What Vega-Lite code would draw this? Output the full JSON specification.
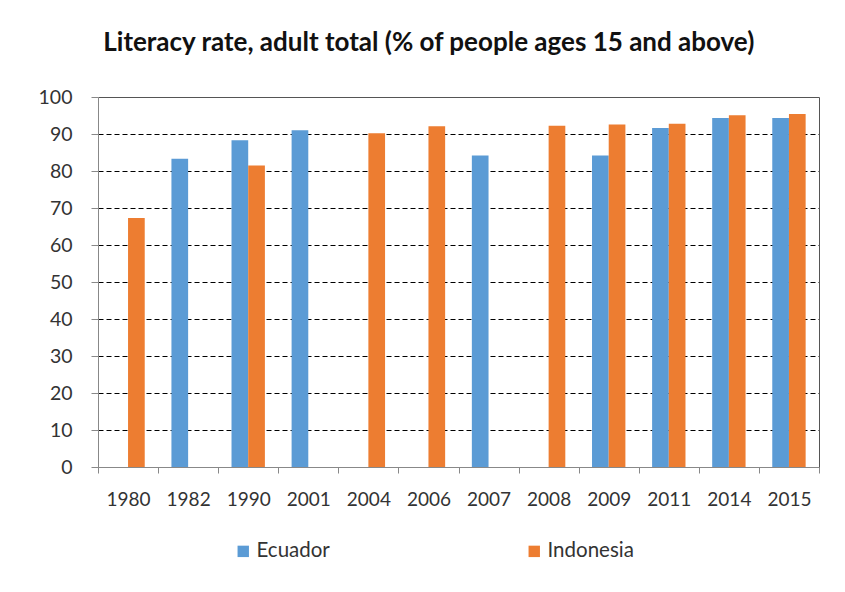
{
  "$schema": "https://vega.github.io/schema/vega-lite/v6.json",
  "width": 721,
  "height": 370,
  "autosize": {"type": "pad"},
  "padding": {"left": 38, "top": 30, "right": 27, "bottom": 10},
  "background": "white",
  "title": {
    "text": "Literacy rate, adult total (% of people ages 15 and above)",
    "font": "Lato",
    "fontSize": 26,
    "fontWeight": "bold",
    "color": "#111111",
    "anchor": "middle",
    "frame": "bounds",
    "offset": 31
  },
  "data": {
    "values": [
      {"year": "1980", "country": "Indonesia", "value": 67.3},
      {"year": "1982", "country": "Ecuador", "value": 83.3},
      {"year": "1990", "country": "Ecuador", "value": 88.3},
      {"year": "1990", "country": "Indonesia", "value": 81.5},
      {"year": "2001", "country": "Ecuador", "value": 91.0},
      {"year": "2004", "country": "Indonesia", "value": 90.2},
      {"year": "2006", "country": "Indonesia", "value": 92.1},
      {"year": "2007", "country": "Ecuador", "value": 84.2},
      {"year": "2008", "country": "Indonesia", "value": 92.2},
      {"year": "2009", "country": "Ecuador", "value": 84.2},
      {"year": "2009", "country": "Indonesia", "value": 92.6},
      {"year": "2011", "country": "Ecuador", "value": 91.6},
      {"year": "2011", "country": "Indonesia", "value": 92.8},
      {"year": "2014", "country": "Ecuador", "value": 94.3},
      {"year": "2014", "country": "Indonesia", "value": 95.1},
      {"year": "2015", "country": "Ecuador", "value": 94.3},
      {"year": "2015", "country": "Indonesia", "value": 95.4}
    ]
  },
  "layer": [
    {
      "mark": {"type": "bar"},
      "encoding": {
        "x": {
          "field": "year",
          "type": "nominal",
          "scale": {"paddingInner": 0, "paddingOuter": 0},
          "axis": {
            "title": null,
            "labelAngle": 0,
            "tickBand": "extent",
            "tickSize": 6,
            "labelPadding": 17,
            "labelFont": "Lato",
            "labelFontSize": 19,
            "labelColor": "#333333",
            "domainColor": "#888888",
            "tickColor": "#888888",
            "grid": false
          }
        },
        "xOffset": {
          "field": "country",
          "type": "nominal",
          "scale": {"paddingInner": 0, "paddingOuter": 0.8}
        },
        "y": {
          "field": "value",
          "type": "quantitative",
          "scale": {"domain": [0, 100]},
          "axis": {
            "title": null,
            "values": [0, 10, 20, 30, 40, 50, 60, 70, 80, 90, 100],
            "tickSize": 7,
            "labelPadding": 19,
            "labelFont": "Lato",
            "labelFontSize": 19.5,
            "labelColor": "#333333",
            "domainColor": "#888888",
            "tickColor": "#888888",
            "grid": true,
            "gridColor": {"condition": {"test": "datum.value === 0 || datum.value === 100", "value": "transparent"}, "value": "#000000"},
            "gridDash": [5, 3],
            "gridWidth": 1
          }
        },
        "color": {
          "field": "country",
          "type": "nominal",
          "scale": {"domain": ["Ecuador", "Indonesia"], "range": ["#5B9BD5", "#ED7D31"]},
          "legend": {
            "title": null,
            "orient": "none",
            "legendX": 135,
            "legendY": 444,
            "direction": "horizontal",
            "symbolType": "square",
            "symbolSize": 130,
            "symbolStrokeWidth": 0,
            "labelFont": "Lato",
            "labelFontSize": 20.5,
            "labelColor": "#333333",
            "labelOffset": 3,
            "columnPadding": 194
          }
        }
      }
    },
    {
      "mark": {"type": "bar", "opacity": 0},
      "encoding": {
        "x": {
          "field": "year",
          "type": "nominal",
          "axis": {"orient": "top", "title": null, "labels": false, "ticks": false, "grid": false, "domainColor": "#555555"}
        },
        "xOffset": {"field": "country", "type": "nominal"},
        "y": {
          "field": "value",
          "type": "quantitative",
          "axis": {"orient": "right", "title": null, "labels": false, "ticks": false, "grid": false, "domainColor": "#555555"}
        }
      }
    }
  ],
  "resolve": {"axis": {"x": "independent", "y": "independent"}},
  "config": {"view": {"stroke": null}}
}
